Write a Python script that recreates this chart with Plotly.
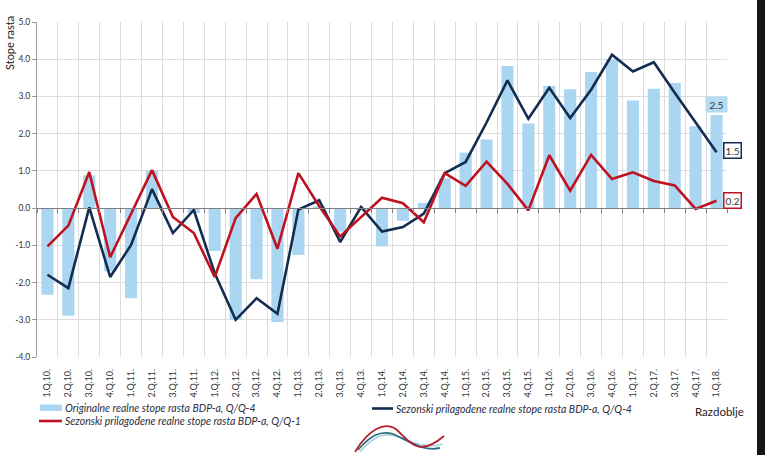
import plotly.graph_objects as go

categories = ["1.Q.10.", "2.Q.10.", "3.Q.10.", "4.Q.10.",
              "1.Q.11.", "2.Q.11.", "3.Q.11.", "4.Q.11.",
              "1.Q.12.", "2.Q.12.", "3.Q.12.", "4.Q.12.",
              "1.Q.13.", "2.Q.13.", "3.Q.13.", "4.Q.13.",
              "1.Q.14.", "2.Q.14.", "3.Q.14.", "4.Q.14.",
              "1.Q.15.", "2.Q.15.", "3.Q.15.", "4.Q.15.",
              "1.Q.16.", "2.Q.16.", "3.Q.16.", "4.Q.16.",
              "1.Q.17.", "2.Q.17.", "3.Q.17.", "4.Q.17.",
              "1.Q.18."]

original_yoy = [-2.33, -2.89, 0.88, -1.70,
                -2.42, 1.00, 0.00, -0.13,
                -1.15, -3.00, -1.91, -3.06,
                -1.26, 0.05, -0.63, -0.05,
                -1.03, -0.34, 0.14, 0.80,
                1.49, 1.84, 3.82, 2.27,
                3.28, 3.19, 3.66, 3.99,
                2.89, 3.21, 3.36, 2.20,
                2.50]

sa_yoy = [-1.79, -2.15, 0.02, -1.85,
          -0.99, 0.51, -0.67, -0.05,
          -1.75, -3.00, -2.42, -2.84,
          -0.04, 0.21, -0.91, 0.03,
          -0.63, -0.51, -0.15, 0.94,
          1.24, 2.30, 3.43, 2.40,
          3.23, 2.42, 3.18, 4.12,
          3.67, 3.92, 3.10, 2.30,
          1.50]

sa_qoq = [-1.03, -0.47, 0.97, -1.32,
          -0.15, 1.02, -0.24, -0.67,
          -1.85, -0.27, 0.38, -1.09,
          0.94, 0.05, -0.76, -0.25,
          0.28, 0.13, -0.38, 0.94,
          0.60, 1.25, 0.65, -0.06,
          1.42, 0.47, 1.43, 0.78,
          0.96, 0.73, 0.61, -0.02,
          0.20]

y_ticks = [-4, -3, -2, -1, 0, 1, 2, 3, 4, 5]
y_ticktext = ["-4.0", "-3.0", "-2.0", "-1.0", "0.0", "1.0", "2.0", "3.0", "4.0", "5.0"]

names = ["Originalne realne stope rasta BDP-a, Q/Q-4",
         "Sezonski prilagođene realne stope rasta BDP-a, Q/Q-4",
         "Sezonski prilagođene realne stope rasta BDP-a, Q/Q-1"]

BAR = "#aad6f1"
NAVY = "#142c4f"
RED = "#bf1220"
TXT = "#333333"
LEGTXT = "#2a2d3e"
FONT = "Lato"

fig = go.Figure()
fig.add_trace(go.Bar(x=categories, y=original_yoy, name=names[0], showlegend=False,
                     marker=dict(color=BAR, line=dict(width=0))))
fig.add_trace(go.Scatter(x=categories, y=sa_yoy, name=names[1], showlegend=False,
                         mode="lines", line=dict(color=NAVY, width=2.6)))
fig.add_trace(go.Scatter(x=categories, y=sa_qoq, name=names[2], showlegend=False,
                         mode="lines", line=dict(color=RED, width=2.6)))
# helper trace for the zero-line axis (ticks on zero line)
fig.add_trace(go.Scatter(x=categories, y=sa_qoq, xaxis="x2", mode="lines",
                         line=dict(width=0), opacity=0, showlegend=False,
                         hoverinfo="skip"))

last = categories[-1]
fig.add_annotation(x=last, y=original_yoy[-1], text="%.1f" % original_yoy[-1],
                   showarrow=False, yshift=11, bgcolor="#b4dcf3",
                   font=dict(family=FONT, size=10, color=TXT),
                   borderpad=1.5, width=18)
fig.add_annotation(x=last, y=sa_yoy[-1], text="%.1f" % sa_yoy[-1],
                   showarrow=False, xshift=16, yshift=2, bgcolor="white",
                   bordercolor=NAVY, borderwidth=1.5, borderpad=1,
                   font=dict(family=FONT, size=10, color=TXT))
fig.add_annotation(x=last, y=sa_qoq[-1], text="%.1f" % sa_qoq[-1],
                   showarrow=False, xshift=16, yshift=0, bgcolor="white",
                   bordercolor=RED, borderwidth=1.5, borderpad=1,
                   font=dict(family=FONT, size=10, color=TXT))


def px(xp):
    return (xp - 37) / 690.0


def py(yp):
    return (357 - yp) / 335.0


# axis titles
fig.add_annotation(xref="paper", yref="paper", x=px(10), y=py(14), text="Stope rasta",
                   textangle=-90, showarrow=False, xanchor="center", yanchor="top",
                   font=dict(family=FONT, size=11, color="#222222"))
fig.add_annotation(xref="paper", yref="paper", x=px(746), y=py(411), text="Razdoblje",
                   showarrow=False, xanchor="right", yanchor="middle",
                   font=dict(family=FONT, size=11.5, color="#222222"))

# legend (drawn manually for exact layout)
legend_items = [
    ("bar", BAR, names[0], 40, 62, 408),
    ("line", NAVY, names[1], 372, 393, 408.5),
    ("line", RED, names[2], 39, 62, 421),
]
for kind, col, label, x0, x1, yc in legend_items:
    if kind == "bar":
        fig.add_shape(type="rect", xref="paper", yref="paper",
                      x0=px(x0), x1=px(x1), y0=py(yc + 3), y1=py(yc - 3.5),
                      fillcolor=col, line=dict(width=0))
    else:
        fig.add_shape(type="line", xref="paper", yref="paper",
                      x0=px(x0), x1=px(x1), y0=py(yc), y1=py(yc),
                      line=dict(color=col, width=2.6))
    fig.add_annotation(xref="paper", yref="paper", x=px(x1 + 1), y=py(yc),
                       text="<i>" + label + "</i>", showarrow=False,
                       xanchor="left", yanchor="middle",
                       font=dict(family=FONT, size=10.5, color=LEGTXT))


# decorative logo
def path(pts):
    s = "M %f %f" % (px(pts[0][0]), py(pts[0][1]))
    for i in range(1, len(pts), 3):
        a, b, c = pts[i], pts[i + 1], pts[i + 2]
        s += " C %f %f %f %f %f %f" % (px(a[0]), py(a[1]), px(b[0]), py(b[1]), px(c[0]), py(c[1]))
    return s


logo = [
    ("#a9d2e0", [(360, 452), (372, 438), (382, 432), (395, 436), (410, 441), (425, 450), (443, 444)]),
    ("#2d6f80", [(358, 450), (370, 436), (380, 430), (393, 434), (408, 440), (422, 452), (440, 448)]),
    ("#b5202e", [(355, 452), (368, 430), (385, 420), (397, 430), (410, 442), (418, 458), (444, 436)]),
]
for col, pts in logo:
    fig.add_shape(type="path", xref="paper", yref="paper", path=path(pts),
                  line=dict(color=col, width=1.8), layer="above")

# dark frame strip at the right edge of the picture
fig.add_shape(type="path", xref="paper", yref="paper",
              path="M %f %f L %f %f L %f %f L %f %f Z" % (px(757.5), py(0), px(765), py(0),
                                                          px(765), py(455), px(757.5), py(455)),
              fillcolor="#151515", line=dict(color="#151515", width=1), layer="above")

fig.update_layout(
    width=765, height=455,
    margin=dict(l=37, r=38, t=22, b=98),
    paper_bgcolor="white", plot_bgcolor="white",
    bargap=0.42,
    font=dict(family=FONT, size=9, color=TXT),
    showlegend=False,
    xaxis=dict(type="category", categoryorder="array", categoryarray=categories,
               range=[-0.5, len(categories) - 0.5],
               tickson="boundaries", showgrid=True, gridcolor="#dcdcdc", gridwidth=1,
               ticks="", tickangle=-90, showline=False, zeroline=False,
               tickfont=dict(family=FONT, size=9, color=TXT),
               ticklabelstandoff=9),
    xaxis2=dict(type="category", categoryorder="array", categoryarray=categories,
                range=[-0.5, len(categories) - 0.5], overlaying="x",
                anchor="free", position=4 / 9, side="bottom",
                tickson="boundaries", ticks="outside", ticklen=4, tickcolor="#7f7f7f",
                showline=True, linecolor="#7f7f7f", linewidth=1.2,
                showgrid=False, zeroline=False, showticklabels=False),
    yaxis=dict(range=[-4, 5], tickvals=y_ticks, ticktext=y_ticktext,
               showgrid=True, gridcolor="#dcdcdc", gridwidth=1,
               zeroline=False, showline=True, linecolor="#9a9a9a", linewidth=1,
               ticks="outside", ticklen=4, tickcolor="#9a9a9a",
               tickfont=dict(family=FONT, size=8.5, color=TXT)),
)

fig.write_html("out.html")
